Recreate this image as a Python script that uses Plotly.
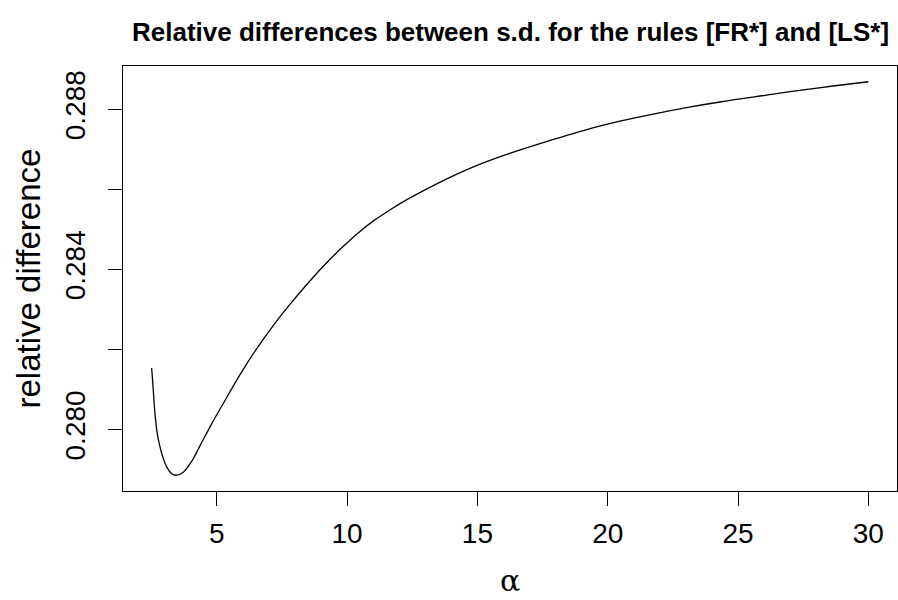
import plotly.graph_objects as go

# Data
alpha = [2.5, 2.562, 2.627, 2.715, 2.819, 2.946, 3.077, 3.269, 3.423, 3.704,
         4.038, 4.358, 4.781, 5.254, 5.896, 6.538, 7.165, 7.819, 8.512, 9.231,
         9.742, 10.4, 11.023, 11.67, 12.31, 13.59, 14.87, 16.15, 17.43, 19.23,
         20.51, 21.79, 23.08, 24.36, 26.15, 27.43, 28.72, 30.0]
rel_diff = [0.28154, 0.28098, 0.28040, 0.27990, 0.27957, 0.27928, 0.27907,
            0.27890, 0.27886, 0.27893, 0.27921, 0.27960, 0.28012, 0.28066,
            0.28138, 0.28203, 0.28260, 0.28314, 0.28367, 0.28418, 0.28451,
            0.28490, 0.28522, 0.28550, 0.28575, 0.28619, 0.28657, 0.28688,
            0.28715, 0.28750, 0.28771, 0.28789, 0.28805, 0.28819, 0.28836,
            0.28848, 0.28859, 0.28869]

x_ticks = [5, 10, 15, 20, 25, 30]
y_ticks = [0.280, 0.282, 0.284, 0.286, 0.288]
y_ticktext = ["0.280", "", "0.284", "", "0.288"]

title_text = "Relative differences between s.d. for the rules [FR*] and [LS*]"
x_label = "α"
y_label = "relative difference"

FONT = "Liberation Sans, Arial, Helvetica, sans-serif"

fig = go.Figure()
fig.add_trace(go.Scatter(x=alpha, y=rel_diff, mode="lines",
                         line=dict(color="black", width=1.3, shape="spline", smoothing=1.0),
                         showlegend=False, hoverinfo="skip"))

x_lo, x_hi = 2.5 - 0.04 * 27.5, 30 + 0.04 * 27.5
y_lo = min(rel_diff); y_hi = max(rel_diff); dy = y_hi - y_lo
fig.update_xaxes(range=[x_lo, x_hi], tickvals=x_ticks, ticks="outside", ticklen=14,
                 tickwidth=1, tickcolor="black", showline=True, linecolor="black",
                 linewidth=1, mirror=True, showgrid=False, zeroline=False,
                 tickfont=dict(family=FONT, size=28, color="black"),
                 ticklabelstandoff=3)
fig.update_yaxes(range=[y_lo - 0.04 * dy, y_hi + 0.04 * dy], tickvals=y_ticks,
                 ticktext=y_ticktext, ticks="outside", ticklen=14, tickwidth=1,
                 tickcolor="black", showline=True, linecolor="black", linewidth=1,
                 mirror=True, showgrid=False, zeroline=False, tickangle=-90,
                 tickfont=dict(family=FONT, size=28, color="black"),
                 ticklabelstandoff=12)

fig.update_layout(
    width=898, height=600,
    margin=dict(l=123, r=1, t=66, b=109),
    paper_bgcolor="white", plot_bgcolor="white",
    annotations=[
        dict(text="<b>" + title_text + "</b>", xref="paper", yref="paper",
             x=0.5, y=(491 - 32) / 425, xanchor="center", yanchor="middle",
             showarrow=False, font=dict(family=FONT, size=26, color="black")),
        dict(text=x_label, xref="paper", yref="paper", x=0.5, y=(491 - 580) / 425,
             xanchor="center", yanchor="middle", showarrow=False,
             font=dict(family="DejaVu Serif, serif", size=30, color="black")),
        dict(text=y_label, xref="paper", yref="paper", x=(28 - 123) / 774, y=0.5,
             xanchor="center", yanchor="middle", textangle=-90, showarrow=False,
             font=dict(family=FONT, size=33, color="black")),
    ],
)

fig.write_html("out.html")
